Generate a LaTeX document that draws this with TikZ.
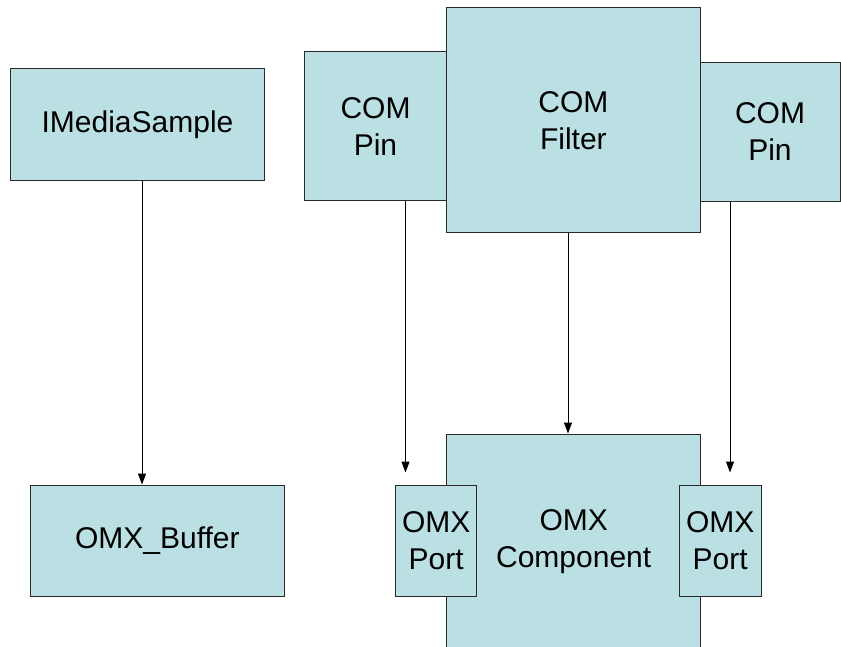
\documentclass[tikz,border=0pt]{standalone}
\usepackage{fontspec}
\setmainfont{Liberation Sans}
\usetikzlibrary{arrows.meta}
\definecolor{boxfill}{HTML}{BBE0E3}
\definecolor{boxline}{HTML}{2A2A2A}
\begin{document}
\begin{tikzpicture}[x=1pt,y=-1pt,
  blk/.style={draw=boxline, line width=1pt, fill=boxfill, inner sep=0pt,
    align=center, font=\fontsize{30}{37}\selectfont},
  arr/.style={line width=1pt, -{Triangle[length=11pt,width=8pt]}}]
\useasboundingbox (0,0) rectangle (841,647);

% DirectShow side
\node[blk, minimum width=254, minimum height=112] (ims) at (137.5,124.5) {IMediaSample};
\node[blk, minimum width=143, minimum height=149] (pinL) at (375.5,126.4) {COM\\Pin};
\node[blk, minimum width=140, minimum height=138.5] (pinR) at (770,131.8) {COM\\Pin};
\node[blk, minimum width=253.3, minimum height=224.6] (filter) at (573.4,120.3) {COM\\Filter};

% OpenMAX side
\node[blk, minimum width=253.5, minimum height=111.5] (buf) at (157.3,540.8) {OMX\_Buffer};
\node[blk, minimum width=254, minimum height=215] (comp) at (573.7,541.5) {OMX\\Component};
\node[blk, minimum width=81, minimum height=111] (portL) at (436.2,540.5) {OMX\\Port};
\node[blk, minimum width=81.7, minimum height=111] (portR) at (720.2,540.5) {OMX\\Port};

% connector columns and free arrow ends
\coordinate (cA) at (142,0);
\coordinate (cB) at (405.5,0);
\coordinate (cC) at (568,0);
\coordinate (cD) at (730,0);
\coordinate (tipL) at ([yshift=12pt]portL.north);
\coordinate (tipR) at ([yshift=12pt]portR.north);

\draw[arr] (ims.south -| cA) -- (buf.north -| cA);
\draw[arr] (pinL.south -| cB) -- (tipL -| cB);
\draw[arr] (filter.south -| cC) -- (comp.north -| cC);
\draw[arr] (pinR.south -| cD) -- (tipR -| cD);
\end{tikzpicture}
\end{document}
